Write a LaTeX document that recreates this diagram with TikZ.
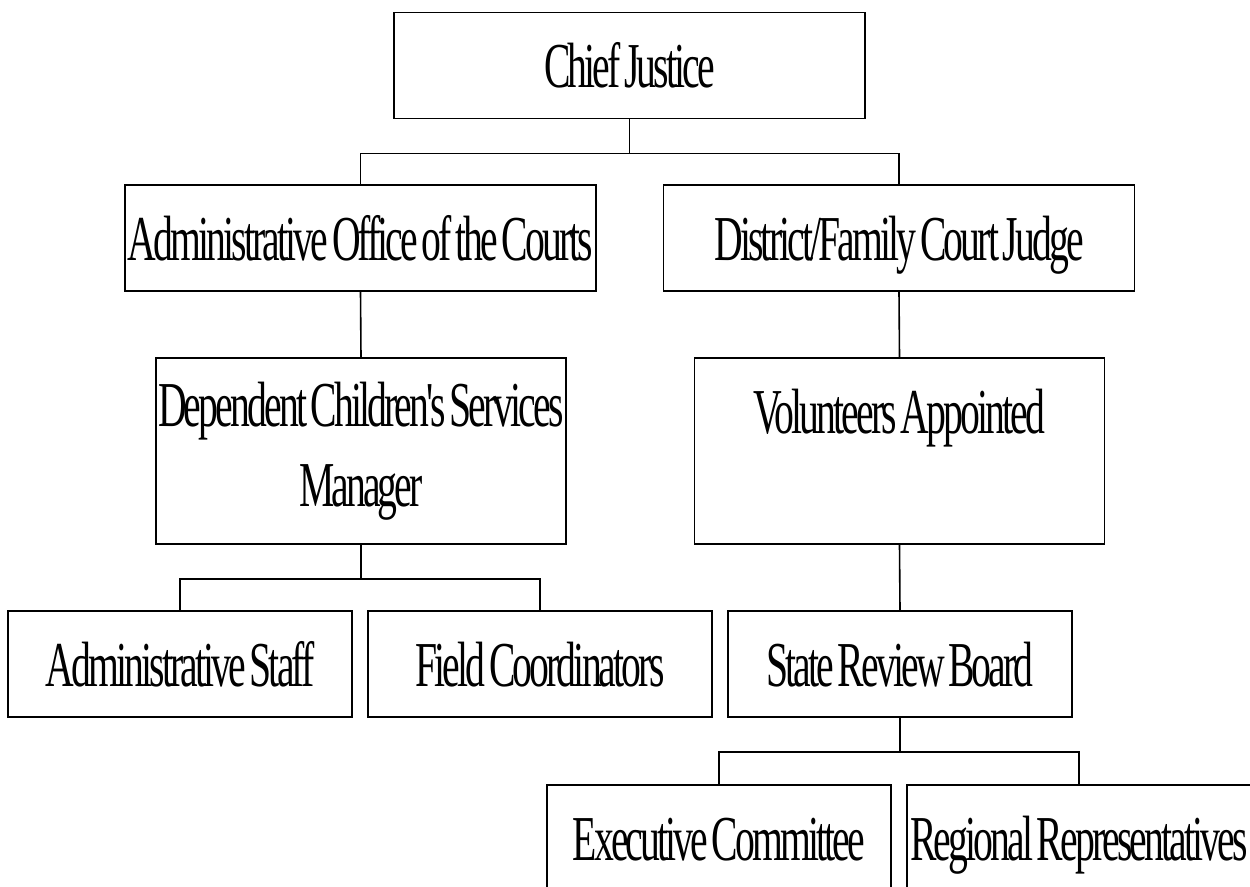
\documentclass[tikz,border=0pt]{standalone}
\usepackage{fontspec}
\setmainfont{Liberation Serif}[Ligatures=TeXOff, FakeStretch=0.62, LetterSpace=-4.5, WordSpace=0.5]

\begin{document}
\begin{tikzpicture}[x=1pt, y=-1pt,
    office/.style={draw, line width=1.6pt, inner sep=0pt, align=center,
      minimum width=344pt, minimum height=106pt,
      text height=44pt, text depth=0pt, font=\fontsize{64}{80}\selectfont},
    wide/.style={office, minimum width=471pt},
    tall/.style={draw, line width=1.6pt, inner sep=0pt, align=center,
      minimum width=410pt, minimum height=186pt, font=\fontsize{64}{80}\selectfont},
    link/.style={line width=1.6pt}
  ]
  \useasboundingbox (0,0) rectangle (1250,886);

  \node[wide]   (chief)  at (629.5,65.5) {Chief Justice};
  \node[wide]   (aoc)    at (360.5,238)  {Administrative Office of the Courts};
  \node[wide]   (judge)  at (899,238)    {District/Family Court Judge};
  \node[tall]   (dcs)    at (361,451)    {Dependent Children's Services\\Manager};
  \node[tall]   (vol)    at (899.5,451)  {Volunteers Appointed\\~};
  \node[office] (staff)  at (180,664)    {Administrative Staff};
  \node[office] (field)  at (540,664)    {Field Coordinators};
  \node[office] (board)  at (900,664)    {State Review Board};
  \node[office] (exec)   at (719,838)    {Executive Committee};
  \node[office] (region) at (1079,838)   {Regional Representatives};

  \draw[link] (chief.south) -- ++(0,34) -| (aoc.north);
  \draw[link] (chief.south) -- ++(0,34) -| (judge.north);
  \draw[link] (aoc.south)   -- (dcs.north);
  \draw[link] (judge.south) -- (vol.north);
  \draw[link] (dcs.south)   -- ++(0,34) -| (staff.north);
  \draw[link] (dcs.south)   -- ++(0,34) -| (field.north);
  \draw[link] (vol.south)   -- (board.north);
  \draw[link] (board.south) -- ++(0,34) -| (exec.north);
  \draw[link] (board.south) -- ++(0,34) -| (region.north);
\end{tikzpicture}
\end{document}
